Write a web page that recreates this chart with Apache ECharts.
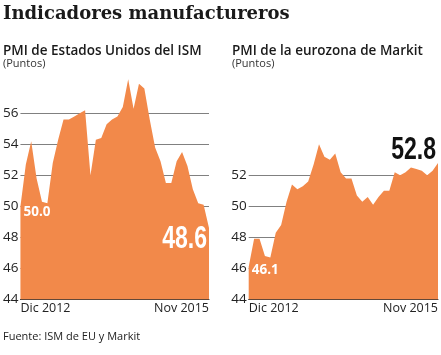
<!DOCTYPE html>
<html><head><meta charset="utf-8">
<script src="https://cdn.jsdelivr.net/npm/echarts@6/dist/echarts.min.js"></script>
<style>html,body{margin:0;padding:0;background:#fff}#c{width:441px;height:355px}</style>
</head><body><div id="c"></div>
<script>
var months = ["Dic 2012","Ene 2013","Feb 2013","Mar 2013","Abr 2013","May 2013","Jun 2013","Jul 2013","Ago 2013","Sep 2013","Oct 2013","Nov 2013","Dic 2013","Ene 2014","Feb 2014","Mar 2014","Abr 2014","May 2014","Jun 2014","Jul 2014","Ago 2014","Sep 2014","Oct 2014","Nov 2014","Dic 2014","Ene 2015","Feb 2015","Mar 2015","Abr 2015","May 2015","Jun 2015","Jul 2015","Ago 2015","Sep 2015","Oct 2015","Nov 2015"];
var ismUS = [50.0,52.7,54.2,51.8,50.3,50.2,52.8,54.3,55.6,55.6,55.8,56.0,56.2,52.0,54.3,54.4,55.3,55.6,55.8,56.4,58.2,56.3,57.9,57.6,55.6,53.8,52.9,51.5,51.5,52.9,53.5,52.6,51.1,50.2,50.1,48.6];
var markitEZ = [46.1,47.9,47.9,46.8,46.7,48.3,48.8,50.3,51.4,51.1,51.3,51.6,52.7,54.0,53.2,53.0,53.4,52.2,51.8,51.8,50.7,50.3,50.6,50.1,50.6,51.0,51.0,52.2,52.0,52.2,52.5,52.4,52.3,52.0,52.3,52.8];
var ticksUS = {min:44, max:56, interval:2};
var ticksEZ = {min:44, max:52, interval:2};
var titleText = "Indicadores manufactureros";
var subUS = "PMI de Estados Unidos del ISM";
var subEZ = "PMI de la eurozona de Markit";
var unitText = "(Puntos)";
var sourceText = "Fuente: ISM de EU y Markit";

var ORANGE = '#F2894A';
var SANS = '"Open Sans", "Noto Sans", sans-serif';
var chart = echarts.init(document.getElementById('c'), null, {renderer:'canvas'});

function xAxisCfg(idx){
  return {
    type:'category', gridIndex:idx, data:months, boundaryGap:false,
    axisLine:{show:true, lineStyle:{color:'#333', width:1}},
    axisTick:{show:false},
    axisLabel:{
      color:'#222', fontFamily:SANS, fontSize:12.5, margin:3,
      interval:function(i){return i===0||i===months.length-1;},
      alignMinLabel:'left', alignMaxLabel:'right'
    },
    splitLine:{show:false}
  };
}
function yAxisCfg(idx, t){
  return {
    type:'value', gridIndex:idx, min:t.min, max:t.max, interval:t.interval,
    axisLine:{show:false}, axisTick:{show:false},
    axisLabel:{color:'#222', fontFamily:SANS, fontSize:13.5, margin:2, padding:[0,0,4,0]},
    splitLine:{show:true, lineStyle:{color:'#808080', width:1}}
  };
}

chart.setOption({
  animation:false,
  grid:[
    {left:20, top:113.3, width:189, height:186},
    {left:248.7, top:175.3, width:191.3, height:124}
  ],
  xAxis:[xAxisCfg(0), xAxisCfg(1)],
  yAxis:[yAxisCfg(0,ticksUS), yAxisCfg(1,ticksEZ)],
  series:[
    {type:'line', xAxisIndex:0, yAxisIndex:0, data:ismUS, symbol:'none', clip:false, z:3,
     lineStyle:{width:0}, areaStyle:{color:ORANGE, opacity:1}},
    {type:'line', xAxisIndex:1, yAxisIndex:1, data:markitEZ, symbol:'none', clip:false, z:3,
     lineStyle:{width:0}, areaStyle:{color:ORANGE, opacity:1}}
  ]
});

// annotations anchored to data points via library scales
var n = months.length;
var firstUS = chart.convertToPixel({xAxisIndex:0, yAxisIndex:0}, [0, ismUS[0]]);
var firstEZ = chart.convertToPixel({xAxisIndex:1, yAxisIndex:1}, [0, markitEZ[0]]);
var lastUS = chart.convertToPixel({xAxisIndex:0, yAxisIndex:0}, [n-1, ismUS[n-1]]);
var lastEZ = chart.convertToPixel({xAxisIndex:1, yAxisIndex:1}, [n-1, markitEZ[n-1]]);
var BIG = 'bold 32px "Liberation Sans", Arial, sans-serif';
var SMALLB = 'bold 13.5px ' + SANS;
chart.setOption({
  graphic:[
    {type:'text', left:3, top:5, style:{text:titleText, font:'bold 18px "DejaVu Serif", serif', fill:'#1a1a1a'}},
    {type:'text', left:3, top:44, style:{text:subUS, font:'600 13.5px '+SANS, fill:'#1a1a1a'}},
    {type:'text', left:3, top:58, style:{text:unitText, font:'11px '+SANS, fill:'#333'}},
    {type:'text', left:232, top:44, style:{text:subEZ, font:'600 13.5px '+SANS, fill:'#1a1a1a'}},
    {type:'text', left:232, top:58, style:{text:unitText, font:'11px '+SANS, fill:'#333'}},
    {type:'text', left:3, top:331, style:{text:sourceText, font:'11px '+SANS, fill:'#222'}},
    {type:'text', x:firstUS[0]+3, y:firstUS[1]+6, z:10,
     style:{text:ismUS[0].toFixed(1), font:SMALLB, fill:'#fff', align:'left', verticalAlign:'middle'}},
    {type:'text', x:firstEZ[0]+3, y:firstEZ[1]+3.5, z:10,
     style:{text:markitEZ[0].toFixed(1), font:SMALLB, fill:'#fff', align:'left', verticalAlign:'middle'}},
    {type:'text', x:lastUS[0]-2, y:lastUS[1]+11, scaleX:0.72, z:10,
     style:{text:ismUS[n-1].toFixed(1), font:BIG, fill:'#fff', align:'right', verticalAlign:'middle'}},
    {type:'text', x:lastEZ[0]-2, y:lastEZ[1]-13, scaleX:0.72, z:10,
     style:{text:markitEZ[n-1].toFixed(1), font:BIG, fill:'#111', align:'right', verticalAlign:'middle'}}
  ]
});
</script></body></html>
